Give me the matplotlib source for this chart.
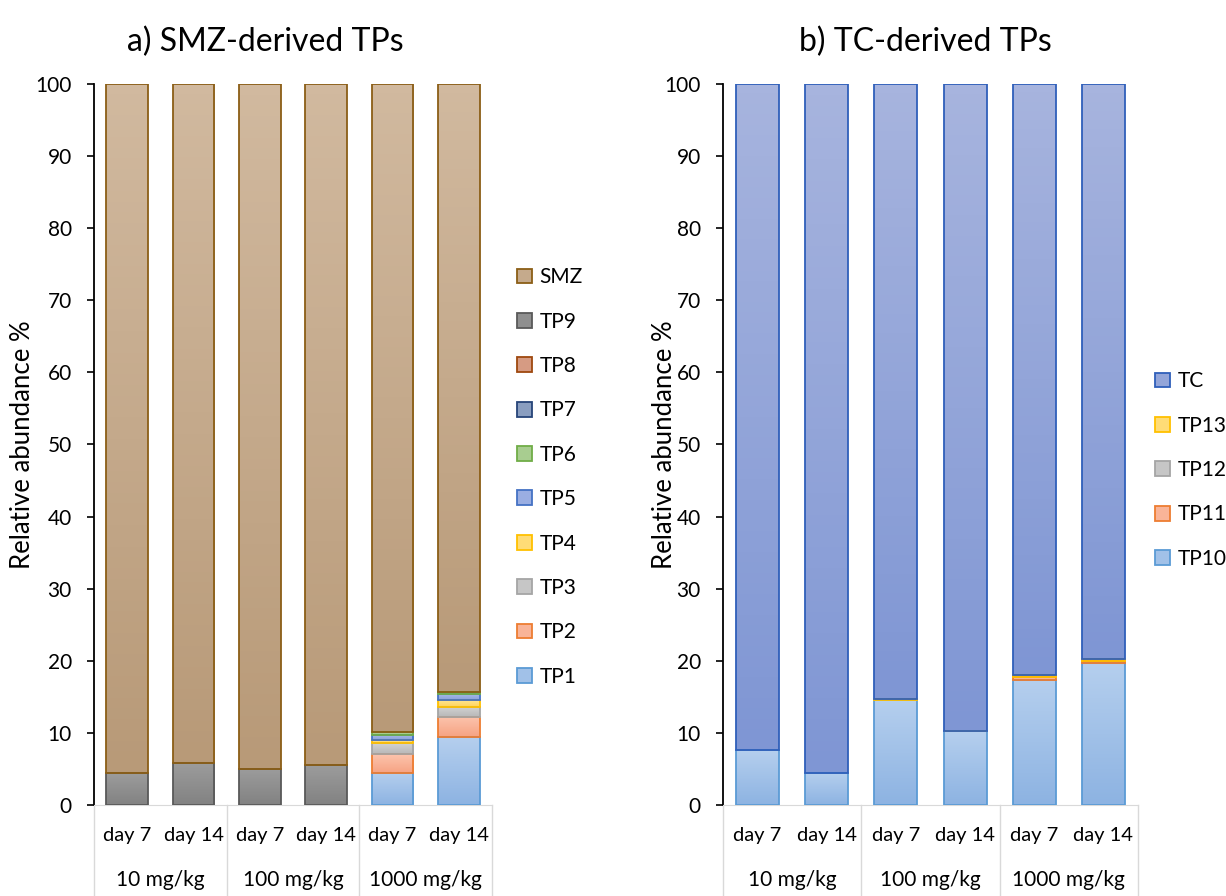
import matplotlib
matplotlib.use('Agg')
import matplotlib.pyplot as plt
from matplotlib.colors import LinearSegmentedColormap
from matplotlib.patches import Patch
import numpy as np

plt.rcParams['font.family'] = ['Lato', 'DejaVu Sans']

days = ['day 7', 'day 14'] * 3
doses = ['10 mg/kg', '100 mg/kg', '1000 mg/kg']

# a) SMZ and its transformation products, % of total (stacked bottom -> top)
tp1 = [0, 0, 0, 0, 4.5, 9.4]
tp2 = [0, 0, 0, 0, 2.55, 2.85]
tp3 = [0, 0, 0, 0, 1.5, 1.4]
tp4 = [0, 0, 0, 0, 0.4, 0.85]
tp5 = [0, 0, 0, 0, 0.8, 0.85]
tp6 = [0, 0, 0, 0, 0.35, 0.25]
tp7 = [0, 0, 0, 0, 0, 0]
tp8 = [0, 0, 0, 0, 0, 0]
tp9 = [4.4, 5.8, 5.0, 5.5, 0, 0]
smz = [95.6, 94.2, 95.0, 94.5, 89.9, 84.4]

# b) TC and its transformation products
tp10 = [7.6, 4.5, 14.5, 10.2, 17.4, 19.7]
tp11 = [0, 0, 0, 0, 0.3, 0.3]
tp12 = [0, 0, 0, 0, 0, 0]
tp13 = [0, 0, 0.15, 0.1, 0.3, 0.3]
tc = [92.4, 95.5, 85.35, 89.7, 82.0, 79.7]

# (label, values, top colour, bottom colour, edge colour)
BLUE = ('#b5cfee', '#8db3e2', '#5b9bd5')
ORNG = ('#fcc4ad', '#f6a383', '#ed7d31')
GREY = ('#d3d3d3', '#b8b8b8', '#a5a5a5')
YELL = ('#ffe592', '#ffd35a', '#ffc000')
series_a = [
    ('TP1', tp1) + BLUE,
    ('TP2', tp2) + ORNG,
    ('TP3', tp3) + GREY,
    ('TP4', tp4) + YELL,
    ('TP5', tp5, '#a9bae8', '#8aa2dc', '#4472c4'),
    ('TP6', tp6, '#b8d8a3', '#98c27c', '#70ad47'),
    ('TP7', tp7, '#9aabc9', '#7a90b6', '#264478'),
    ('TP8', tp8, '#e2ab95', '#c98a70', '#9e480e'),
    ('TP9', tp9, '#9c9c9c', '#828282', '#595959'),
    ('SMZ', smz, '#d1b99f', '#b89a78', '#8b5e16'),
]
series_b = [
    ('TP10', tp10) + BLUE,
    ('TP11', tp11) + ORNG,
    ('TP12', tp12) + GREY,
    ('TP13', tp13) + YELL,
    ('TC', tc, '#a7b4de', '#7f96d4', '#2f5fba'),
]


def stacked(ax, series, width, label_x):
    x = np.arange(len(days))
    base = np.zeros(len(days))
    handles = []
    for name, vals, ctop, cbot, edge in series:
        vals = np.array(vals, dtype=float)
        lw = [1.3 if v > 0 else 0 for v in vals]
        bars = ax.bar(x, vals, width, bottom=base, facecolor='none',
                      edgecolor=edge, linewidth=lw, zorder=3)
        cmap = LinearSegmentedColormap.from_list(name, [cbot, ctop])
        for r in bars:
            if r.get_height() <= 0:
                continue
            x0, y0 = r.get_x(), r.get_y()
            im = ax.imshow(np.linspace(0, 1, 64).reshape(-1, 1), cmap=cmap,
                           origin='lower', aspect='auto', zorder=2,
                           extent=[x0, x0 + r.get_width(), y0, y0 + r.get_height()])
            im.set_clip_path(r)
        base += vals
        mid = LinearSegmentedColormap.from_list('m', [cbot, ctop])(0.5)
        handles.append(Patch(facecolor=mid, edgecolor=edge, linewidth=1.3, label=name))

    ax.set_xlim(-0.5, len(days) - 0.5)
    ax.set_ylim(0, 100)
    ax.set_yticks(range(0, 101, 10))
    ax.tick_params(axis='y', labelsize=15, length=5, width=1.2, pad=11, direction='out')
    ax.set_xticks([])
    for s in ('top', 'right'):
        ax.spines[s].set_visible(False)
    ax.spines['left'].set_linewidth(1.3)
    ax.spines['bottom'].set_color('#d9d9d9')
    ax.set_ylabel('Relative abundance %', fontsize=18.5)
    ax.yaxis.set_label_coords(label_x, 0.5)

    # two-level category axis
    tr = ax.get_xaxis_transform()
    for i, d in enumerate(days):
        ax.text(i, -0.043, d, transform=tr, ha='center', va='center', fontsize=14.5)
    for g, lab in enumerate(doses):
        ax.text(2 * g + 0.5, -0.104, lab, transform=tr, ha='center', va='center', fontsize=15)
    for xs in (-0.5, 1.5, 3.5, 5.5):
        ax.plot([xs, xs], [0, -0.13], transform=tr, color='#d9d9d9', lw=1, clip_on=False)
    return handles[::-1]


fig = plt.figure(figsize=(12.26, 8.96), dpi=100)
ax1 = fig.add_axes([94 / 1226, 0.1016, 398 / 1226, 0.8047])
ax2 = fig.add_axes([723 / 1226, 0.1016, 415 / 1226, 0.8047])

h1 = stacked(ax1, series_a, 0.63, -59 / 398)
h2 = stacked(ax2, series_b, 0.62, -46 / 415)

leg_kw = dict(frameon=False, fontsize=15, handlelength=0.72, handleheight=0.72,
              handletextpad=0.35, labelspacing=1.17, borderpad=0, borderaxespad=0,
              loc='center left')
fig.legend(handles=h1, bbox_to_anchor=(517 / 1226, 1 - 477 / 896), **leg_kw)
fig.legend(handles=h2, bbox_to_anchor=(1155 / 1226, 1 - 470 / 896), **leg_kw)

fig.text(265 / 1226, 1 - 42 / 896, 'a) SMZ-derived TPs', ha='center', va='center', fontsize=23)
fig.text(925 / 1226, 1 - 42 / 896, 'b) TC-derived TPs', ha='center', va='center', fontsize=23)

fig.savefig('out.png', dpi=100, facecolor='white')
